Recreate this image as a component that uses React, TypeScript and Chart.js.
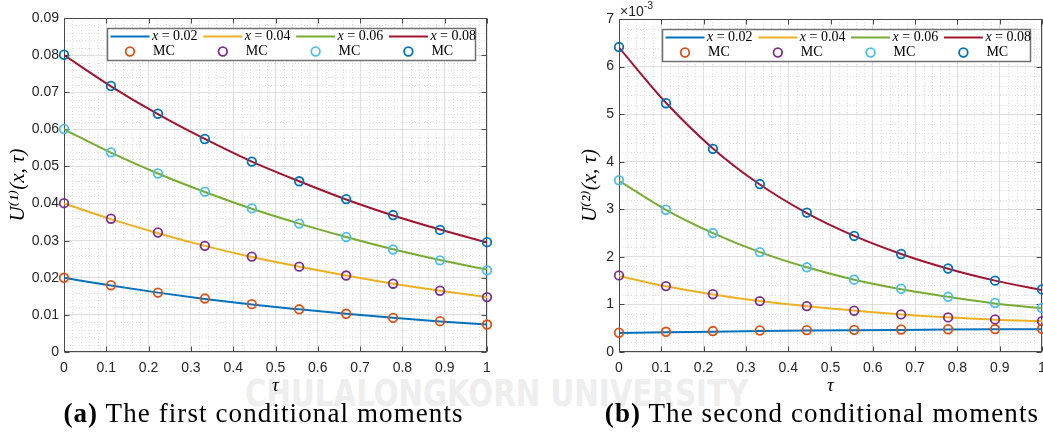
import React, { useEffect, useRef } from "react";
import { Chart, registerables } from "chart.js";

Chart.register(...registerables);

// ---------- data ----------
const tau = [0, 0.111, 0.222, 0.333, 0.444, 0.556, 0.667, 0.778, 0.889, 1];
const tauTicks = [0, 0.1, 0.2, 0.3, 0.4, 0.5, 0.6, 0.7, 0.8, 0.9, 1];
const tauTickLabels = ["0", "0.1", "0.2", "0.3", "0.4", "0.5", "0.6", "0.7", "0.8", "0.9", "1"];

const xValues = ["0.02", "0.04", "0.06", "0.08"];
const mcLabel = "MC";

// (a) first conditional moments U^(1)(x, tau)
const u1Line002 = [0.02, 0.0179, 0.016, 0.0143, 0.0128, 0.0115, 0.0103, 0.0092, 0.0082, 0.0074];
const u1Line004 = [0.04, 0.0358, 0.032, 0.0286, 0.0256, 0.023, 0.0206, 0.0184, 0.0165, 0.0148];
const u1Line006 = [0.06, 0.0537, 0.0481, 0.0431, 0.0386, 0.0346, 0.031, 0.0277, 0.0248, 0.0222];
const u1Line008 = [0.08, 0.0716, 0.0641, 0.0574, 0.0513, 0.046, 0.0411, 0.0368, 0.033, 0.0295];
const u1Mc002 = [0.02, 0.018, 0.016, 0.0144, 0.0129, 0.0115, 0.0103, 0.0092, 0.0083, 0.0074];
const u1Mc004 = [0.0401, 0.0359, 0.0322, 0.0286, 0.0257, 0.023, 0.0206, 0.0184, 0.0165, 0.0148];
const u1Mc006 = [0.0601, 0.0538, 0.0481, 0.0432, 0.0387, 0.0346, 0.031, 0.0276, 0.0247, 0.022];
const u1Mc008 = [0.0801, 0.0717, 0.0642, 0.0574, 0.0513, 0.046, 0.0412, 0.0369, 0.0329, 0.0296];
const u1Ticks = [0, 0.01, 0.02, 0.03, 0.04, 0.05, 0.06, 0.07, 0.08, 0.09];
const u1TickLabels = ["0", "0.01", "0.02", "0.03", "0.04", "0.05", "0.06", "0.07", "0.08", "0.09"];

// (b) second conditional moments U^(2)(x, tau)
const u2Line002 = [0.0004, 0.000415, 0.000428, 0.00044, 0.00045, 0.000458, 0.000465, 0.000471, 0.000476, 0.00048];
const u2Line004 = [0.0016, 0.00138, 0.00121, 0.00107, 0.00096, 0.00087, 0.00079, 0.00073, 0.00068, 0.00065];
const u2Line006 = [0.0036, 0.00299, 0.0025, 0.0021, 0.00178, 0.00152, 0.00132, 0.00116, 0.00102, 0.00092];
const u2Line008 = [0.0064, 0.00524, 0.00428, 0.00352, 0.00292, 0.00244, 0.00206, 0.00175, 0.0015, 0.0013];
const u2Mc002 = [0.000405, 0.000425, 0.00044, 0.000452, 0.00046, 0.000466, 0.000474, 0.000478, 0.000482, 0.000488];
const u2Mc004 = [0.00161, 0.001385, 0.001215, 0.00107, 0.000965, 0.000867, 0.00079, 0.000727, 0.000685, 0.00065];
const u2Mc006 = [0.00361, 0.00299, 0.0025, 0.0021, 0.00178, 0.00152, 0.00133, 0.00116, 0.00103, 0.000925];
const u2Mc008 = [0.00641, 0.00523, 0.00427, 0.00353, 0.00293, 0.00244, 0.00206, 0.001755, 0.0015, 0.001315];
const u2Ticks = [0, 0.001, 0.002, 0.003, 0.004, 0.005, 0.006, 0.007];
const u2TickLabels = ["0", "1", "2", "3", "4", "5", "6", "7"];
const u2Exponent = "-3";

const captionA = { tag: "(a)", text: " The first conditional moments" };
const captionB = { tag: "(b)", text: " The second conditional moments" };
const watermark = "CHULALONGKORN UNIVERSITY";

// ---------- style ----------
const lineColors = ["#0072BD", "#EDB120", "#77AC30", "#A2142F"];
const mcColors = ["#D95319", "#7E2F8E", "#4DBEEE", "#0072BD"];
const SANS = '"Liberation Sans", Arial, Helvetica, sans-serif';
const SERIF = '"Liberation Serif", "DejaVu Serif", serif';
const AXIS = "#4a4a4a";
const CANVAS_H = 400;

const matlabPlugin = {
  id: "matlab",
  beforeDraw(chart: any) {
    const { ctx, chartArea: ca, scales } = chart;
    const xs = scales.x, ys = scales.y;
    ctx.save();
    ctx.strokeStyle = "#dedede";
    ctx.lineWidth = 1;
    ctx.setLineDash([1, 2]);
    const xt = xs.ticks.map((t: any) => t.value);
    for (let i = 0; i < xt.length - 1; i++) {
      for (let k = 1; k < 5; k++) {
        const v = xt[i] + ((xt[i + 1] - xt[i]) * k) / 5;
        const px = Math.round(xs.getPixelForValue(v)) + 0.5;
        ctx.beginPath();
        ctx.moveTo(px, ca.top);
        ctx.lineTo(px, ca.bottom);
        ctx.stroke();
      }
    }
    const yt = ys.ticks.map((t: any) => t.value);
    for (let i = 0; i < yt.length - 1; i++) {
      for (let k = 1; k < 5; k++) {
        const v = yt[i] + ((yt[i + 1] - yt[i]) * k) / 5;
        const py = Math.round(ys.getPixelForValue(v)) + 0.5;
        ctx.beginPath();
        ctx.moveTo(ca.left, py);
        ctx.lineTo(ca.right, py);
        ctx.stroke();
      }
    }
    ctx.restore();
  },
  beforeDatasetsDraw(chart: any) {
    const { ctx, chartArea: ca, scales } = chart;
    const xs = scales.x, ys = scales.y;
    ctx.save();
    ctx.strokeStyle = AXIS;
    ctx.lineWidth = 1;
    const L = Math.round(ca.left) + 0.5, R = Math.round(ca.right) - 0.5;
    const T = Math.round(ca.top) + 0.5, B = Math.round(ca.bottom) - 0.5;
    ctx.strokeRect(L, T, R - L, B - T);
    const tl = 5;
    ctx.beginPath();
    xs.ticks.forEach((t: any) => {
      const px = Math.round(xs.getPixelForValue(t.value)) + 0.5;
      ctx.moveTo(px, B); ctx.lineTo(px, B - tl);
      ctx.moveTo(px, T); ctx.lineTo(px, T + tl);
    });
    ys.ticks.forEach((t: any) => {
      const py = Math.round(ys.getPixelForValue(t.value)) + 0.5;
      ctx.moveTo(L, py); ctx.lineTo(L + tl, py);
      ctx.moveTo(R, py); ctx.lineTo(R - tl, py);
    });
    ctx.stroke();
    ctx.restore();
  },
  afterDatasetsDraw(chart: any, _args: any, opts: any) {
    const { ctx, chartArea: ca } = chart;
    ctx.save();
    // legend
    const bx = Math.round(ca.left + 43) + 0.5;
    const by = Math.round(ca.top + 10) + 0.5;
    const bw = Math.round(ca.right - 11.5 - bx);
    const bh = 32;
    ctx.fillStyle = "#ffffff";
    ctx.fillRect(bx, by, bw, bh);
    ctx.strokeStyle = "#707070";
    ctx.lineWidth = 1.5;
    ctx.strokeRect(bx, by, bw, bh);
    const colW = 92.8;
    ctx.textBaseline = "middle";
    for (let i = 0; i < 4; i++) {
      const x0 = bx + 3 + i * colW;
      const y1 = by + 8;
      const y2 = by + 23;
      ctx.strokeStyle = lineColors[i];
      ctx.lineWidth = 2;
      ctx.beginPath();
      ctx.moveTo(x0, y1);
      ctx.lineTo(x0 + 39, y1);
      ctx.stroke();
      ctx.fillStyle = "#000";
      ctx.font = `italic 14px ${SERIF}`;
      ctx.fillText("x", x0 + 41.5, y1);
      const w = ctx.measureText("x").width;
      ctx.font = `14px ${SERIF}`;
      ctx.fillText(" = " + xValues[i], x0 + 41.5 + w, y1);
      ctx.strokeStyle = mcColors[i];
      ctx.lineWidth = 1.8;
      ctx.beginPath();
      ctx.arc(x0 + 19.5, y2, 4.3, 0, Math.PI * 2);
      ctx.stroke();
      ctx.fillText(mcLabel, x0 + 42.5, y2);
    }
    if (opts && opts.exponent) {
      ctx.fillStyle = "#262626";
      ctx.textBaseline = "alphabetic";
      ctx.font = `14px ${SANS}`;
      ctx.fillText("\u00d710", ca.left + 1, ca.top - 3);
      const w2 = ctx.measureText("\u00d710").width;
      ctx.font = `10.5px ${SANS}`;
      ctx.fillText(opts.exponent, ca.left + 1 + w2, ca.top - 10);
    }
    ctx.restore();
  },
};

type PanelProps = {
  left: number;
  width: number;
  axisW: number;
  padRight: number;
  padTop: number;
  lines: number[][];
  mcs: number[][];
  yTicks: number[];
  yTickLabels: string[];
  yMax: number;
  yTitle: string;
  yTitlePad: number;
  exponent?: string;
};

function Panel(p: PanelProps) {
  const ref = useRef<HTMLCanvasElement>(null);
  useEffect(() => {
    const canvas = ref.current;
    if (!canvas) return;
    const datasets: any[] = [];
    p.mcs.forEach((arr, i) => {
      datasets.push({
        label: mcLabel,
        data: tau.map((t, j) => ({ x: t, y: arr[j] })),
        showLine: false,
        borderColor: mcColors[i],
        backgroundColor: "rgba(0,0,0,0)",
        pointRadius: 4.3,
        pointHoverRadius: 4.3,
        pointBorderWidth: 1.8,
        pointBorderColor: mcColors[i],
        pointBackgroundColor: "rgba(0,0,0,0)",
        clip: false,
        order: 0,
      });
    });
    p.lines.forEach((arr, i) => {
      datasets.push({
        label: "x = " + xValues[i],
        data: tau.map((t, j) => ({ x: t, y: arr[j] })),
        showLine: true,
        borderColor: lineColors[i],
        backgroundColor: lineColors[i],
        borderWidth: 2,
        pointRadius: 0,
        cubicInterpolationMode: "monotone",
        order: 1,
      });
    });
    const tickFont = { family: SANS, size: 14 };
    const chart = new Chart(canvas, {
      type: "scatter",
      data: { datasets },
      plugins: [matlabPlugin as any],
      options: {
        responsive: false,
        animation: false,
        devicePixelRatio: 1,
        events: [],
        layout: { padding: { left: 0, top: p.padTop, right: p.padRight, bottom: 0 } },
        plugins: {
          legend: { display: false },
          tooltip: { enabled: false },
          matlab: { exponent: p.exponent },
        } as any,
        scales: {
          x: {
            type: "linear",
            min: 0,
            max: 1,
            afterBuildTicks: (s: any) => {
              s.ticks = tauTicks.map((v) => ({ value: v }));
            },
            afterFit: (s: any) => {
              s.height = CANVAS_H - 352;
            },
            ticks: {
              callback: (_v: any, i: number) => tauTickLabels[i],
              autoSkip: false,
              maxRotation: 0,
              padding: 8,
              font: tickFont,
              color: "#262626",
            },
            grid: { color: "#dedede", lineWidth: 1, drawTicks: false },
            border: { display: false },
            title: {
              display: true,
              text: "\u03c4",
              color: "#000",
              font: { family: SERIF, style: "italic", size: 19 },
              padding: { top: 0, bottom: 3 },
            },
          },
          y: {
            type: "linear",
            min: 0,
            max: p.yMax,
            afterBuildTicks: (s: any) => {
              s.ticks = p.yTicks.map((v) => ({ value: v }));
            },
            afterFit: (s: any) => {
              s.width = p.axisW;
            },
            ticks: {
              callback: (_v: any, i: number) => p.yTickLabels[i],
              autoSkip: false,
              padding: 5,
              font: tickFont,
              color: "#262626",
            },
            grid: { color: "#dedede", lineWidth: 1, drawTicks: false },
            border: { display: false },
            title: {
              display: true,
              text: p.yTitle,
              color: "#000",
              font: { family: SERIF, style: "italic", size: 21 },
              padding: { top: p.yTitlePad, bottom: 0 },
            },
          },
        },
      } as any,
    });
    return () => chart.destroy();
  }, []);
  return (
    <canvas
      ref={ref}
      width={p.width}
      height={CANVAS_H}
      style={{ position: "absolute", left: p.left, top: 0, width: p.width, height: CANVAS_H }}
    />
  );
}

export default function App() {
  return (
    <div
      style={{
        position: "absolute",
        left: 0,
        top: 0,
        width: 1043,
        height: 445,
        overflow: "hidden",
        background: "#ffffff",
      }}
    >
      <div
        style={{
          position: "absolute",
          left: 245,
          top: 374,
          textAlign: "left",
          font: `bold 37px "DejaVu Sans Condensed", "DejaVu Sans", sans-serif`,
          color: "#eeeeee",
          whiteSpace: "nowrap",
          lineHeight: "40px",
          transform: "scaleX(0.88)",
          transformOrigin: "left top",
        }}
      >
        {watermark}
      </div>
      <Panel
        left={0}
        width={540}
        axisW={64}
        padRight={53}
        padTop={18}
        lines={[u1Line002, u1Line004, u1Line006, u1Line008]}
        mcs={[u1Mc002, u1Mc004, u1Mc006, u1Mc008]}
        yTicks={u1Ticks}
        yTickLabels={u1TickLabels}
        yMax={0.09}
        yTitle={"U\u207d\u00b9\u207e(x, \u03c4)"}
        yTitlePad={6}
      />
      <Panel
        left={545}
        width={555}
        axisW={74}
        padRight={58}
        padTop={19}
        lines={[u2Line002, u2Line004, u2Line006, u2Line008]}
        mcs={[u2Mc002, u2Mc004, u2Mc006, u2Mc008]}
        yTicks={u2Ticks}
        yTickLabels={u2TickLabels}
        yMax={0.007}
        yTitle={"U\u207d\u00b2\u207e(x, \u03c4)"}
        yTitlePad={33}
        exponent={u2Exponent}
      />
      <div
        style={{
          position: "absolute",
          left: 0,
          top: 397,
          width: 527,
          textAlign: "center",
          font: `27px ${SERIF}`,
          letterSpacing: "1.1px",
          color: "#000",
          whiteSpace: "nowrap",
          lineHeight: "32px",
        }}
      >
        <span style={{ fontWeight: "bold" }}>{captionA.tag}</span>
        {captionA.text}
      </div>
      <div
        style={{
          position: "absolute",
          left: 601,
          top: 397,
          width: 442,
          textAlign: "center",
          font: `27px ${SERIF}`,
          letterSpacing: "1.1px",
          color: "#000",
          whiteSpace: "nowrap",
          lineHeight: "32px",
        }}
      >
        <span style={{ fontWeight: "bold" }}>{captionB.tag}</span>
        {captionB.text}
      </div>
    </div>
  );
}
